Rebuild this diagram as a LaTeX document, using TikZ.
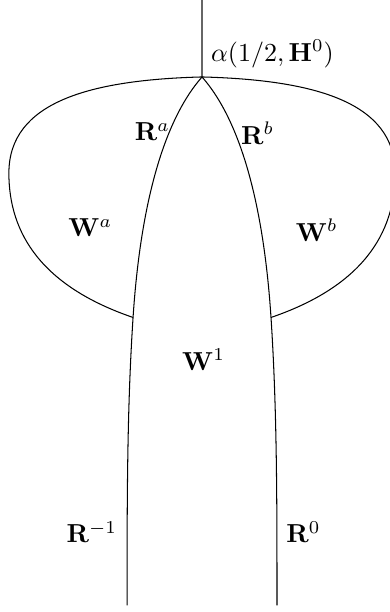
\documentclass[tikz,border=0pt]{standalone}
\usepackage{amsmath,amssymb}
\usepackage{tikz}

\begin{document}
\begin{tikzpicture}[every node/.style={font=\normalsize}]
  \useasboundingbox (-2.73,-7.23) rectangle (2.53,1.04);
  % Apex, joins of the loops, far points and feet of the two curves.
  \coordinate (apex) at (0,0);
  \coordinate (top) at (0,1.04);
  \foreach \s/\n in {-1/a,1/b} {
    \coordinate (j\n) at (0.932*\s,-3.25);
    \coordinate (e\n) at (2.61*\s,-1.30);
    \coordinate (f\n) at (1.013*\s,-7.14);
  }
  \draw[black!60, line width=0.6pt] (top)--(apex);
  \foreach \s/\n in {-1/a,1/b} {
    \draw (apex) .. controls (0.535*\s,-0.608) and (0.835*\s,-1.77) .. (j\n)
      .. controls (1.012*\s,-4.47) and (1.013*\s,-5.68) .. (f\n);
    \draw (apex) .. controls (1.52*\s,-0.04) and (2.61*\s,-0.34) .. (e\n)
      .. controls (2.61*\s,-2.12) and (2.16*\s,-2.83) .. (j\n);
  }
  \node[above right] (alpha) at (apex) {$\alpha(1/2,\mathbf{H}^0)$};
  \node (ra) at (-0.67,-0.74) {$\mathbf{R}^a$};
  \node (rb) at (0.75,-0.76) {$\mathbf{R}^b$};
  \node (wa) at (-1.51,-2.04) {$\mathbf{W}^a$};
  \node (wb) at (1.55,-2.07) {$\mathbf{W}^b$};
  \node (w1) at (0.02,-3.82) {$\mathbf{W}^1$};
  \node (rm) at (-1.49,-6.15) {$\mathbf{R}^{-1}$};
  \node (r0) at (1.37,-6.15) {$\mathbf{R}^0$};
\end{tikzpicture}
\end{document}
